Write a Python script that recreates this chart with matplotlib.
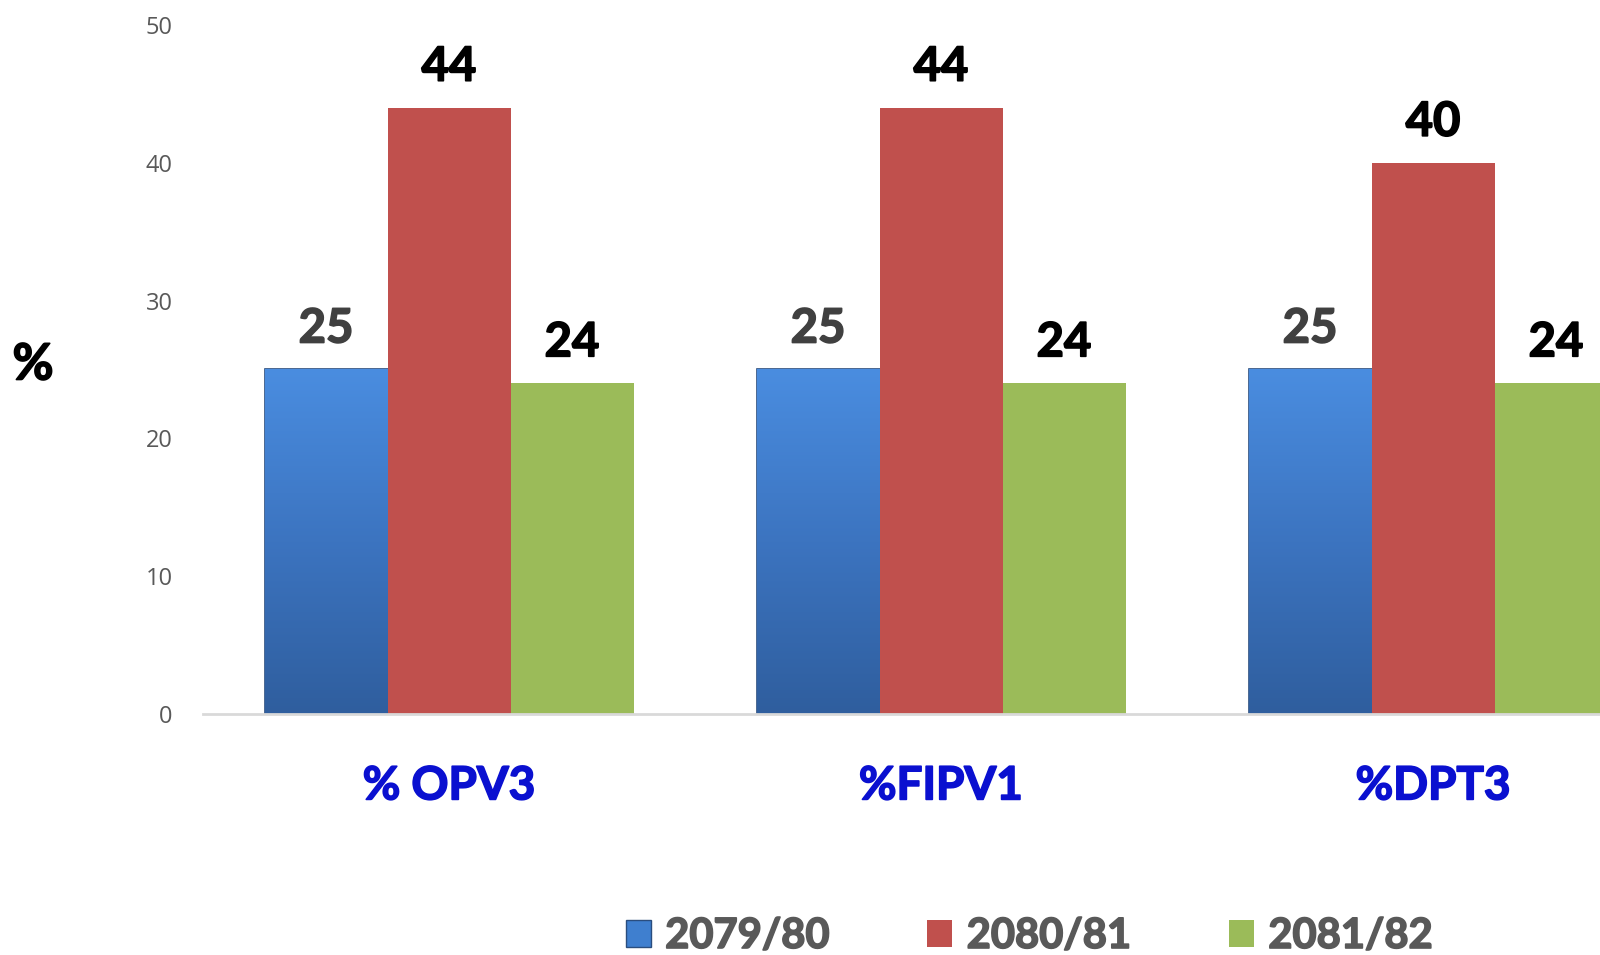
import matplotlib
matplotlib.use("Agg")
import matplotlib.pyplot as plt
import matplotlib.patheffects as pe
import numpy as np
from matplotlib.colors import LinearSegmentedColormap
from matplotlib.patches import Patch

categories = ["% OPV3", "%FIPV1", "%DPT3"]
years = ["2079/80", "2080/81", "2081/82"]
vals_2079 = [25, 25, 25]
vals_2080 = [44, 44, 40]
vals_2081 = [24, 24, 24]
series = [vals_2079, vals_2080, vals_2081]
colors = ["#3F7FCF", "#C0504D", "#9BBB59"]
label_colors = ["#404040", "black", "black"]

plt.rcParams["font.family"] = ["Lato", "DejaVu Sans"]

fig = plt.figure(figsize=(16, 9.55), dpi=100)
# plot area runs past the right edge, like the original (last bar is cut)
ax = fig.add_axes([203 / 1600, 1 - 714 / 955, 1476 / 1600, (714 - 25) / 955])

x = np.arange(len(categories))
width = 0.25
blue_grad = LinearSegmentedColormap.from_list("bg", ["#2F5E9E", "#3C74C0", "#4A8DE0"])

for i, vals in enumerate(series):
    bars = ax.bar(x + (i - 1) * width, vals, width=width, color=colors[i], zorder=2)
    for b, v in zip(bars, vals):
        if i == 0:
            b.set_edgecolor("#2A4D7E")
            b.set_linewidth(1.2)
            bx, by = b.get_x(), b.get_y()
            grad = np.linspace(0, 1, 256).reshape(-1, 1)
            im = ax.imshow(grad, cmap=blue_grad, origin="lower", aspect="auto",
                           extent=[bx, bx + b.get_width(), by, by + b.get_height()], zorder=2.5)
            im.set_clip_path(b)
        ax.annotate(str(v), (b.get_x() + b.get_width() / 2, v), xytext=(0, 29.5),
                    textcoords="offset points", ha="center", va="center",
                    fontsize=34, fontweight="bold", color=label_colors[i],
                    path_effects=[pe.withStroke(linewidth=1.2, foreground=label_colors[i])])

ax.set_xlim(-0.5, len(categories) - 0.5)
ax.set_ylim(0, 50)
ax.set_yticks(range(0, 51, 10))
ax.tick_params(axis="y", length=0, pad=22, labelsize=17, labelcolor="#595959")
for t in ax.get_yticklabels():
    t.set_fontfamily(["Open Sans", "DejaVu Sans"])
ax.set_xticks(x)
ax.set_xticklabels(categories, fontsize=33, fontweight="bold", color="#0A10D0")
for t in ax.get_xticklabels():
    t.set_path_effects([pe.withStroke(linewidth=1.2, foreground="#0A10D0")])
ax.tick_params(axis="x", length=0, pad=37)

for s in ["top", "right", "left"]:
    ax.spines[s].set_visible(False)
ax.spines["bottom"].set_color("#D9D9D9")
ax.spines["bottom"].set_linewidth(2)

fig.text(33 / 1600, 1 - 365 / 955, "%", fontsize=36, fontweight="bold", ha="center", va="center",
         path_effects=[pe.withStroke(linewidth=1.2, foreground="black")])

handles = [Patch(facecolor=colors[0], edgecolor="#2A4D7E"),
           Patch(facecolor=colors[1]), Patch(facecolor=colors[2])]
fig.legend(handles, years, loc="center", bbox_to_anchor=(1029 / 1600, 1 - 936 / 955), ncol=3,
           frameon=False, handlelength=0.6, handleheight=0.6, handletextpad=0.35,
           columnspacing=2.35, prop={"weight": "bold", "size": 30, "family": ["Lato", "DejaVu Sans"]})
for t in fig.legends[0].get_texts():
    t.set_color("#595959")
    t.set_path_effects([pe.withStroke(linewidth=1.2, foreground="#595959")])

fig.savefig("out.png", dpi=100)
